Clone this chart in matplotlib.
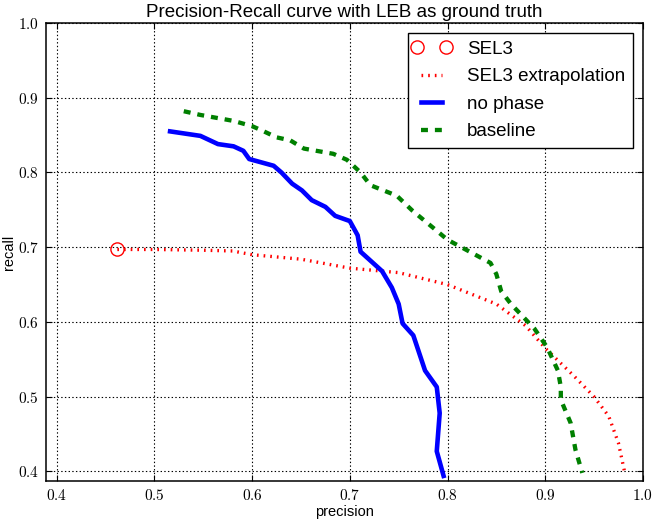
import matplotlib
matplotlib.use("Agg")
import matplotlib.pyplot as plt
from matplotlib import ticker
from matplotlib.legend_handler import HandlerLine2D

# ======================
# data
# ======================
sel3_precision = [0.462]
sel3_recall = [0.697]

extrap_precision = [0.462, 0.50, 0.55, 0.58, 0.60, 0.65, 0.70, 0.75, 0.80, 0.85,
                    0.88, 0.90, 0.93, 0.95, 0.965, 0.975, 0.982]
extrap_recall = [0.697, 0.697, 0.696, 0.695, 0.690, 0.684, 0.672, 0.666, 0.650, 0.624,
                 0.595, 0.565, 0.527, 0.500, 0.474, 0.438, 0.395]

nophase_precision = [0.516, 0.547, 0.565, 0.581, 0.591, 0.597, 0.622, 0.630, 0.641,
                     0.651, 0.661, 0.675, 0.685, 0.700, 0.708, 0.711, 0.733, 0.743,
                     0.750, 0.754, 0.765, 0.777, 0.789, 0.792, 0.789, 0.796]
nophase_recall = [0.855, 0.849, 0.838, 0.835, 0.829, 0.818, 0.809, 0.800, 0.785,
                  0.776, 0.763, 0.754, 0.742, 0.735, 0.716, 0.694, 0.668, 0.646,
                  0.624, 0.598, 0.582, 0.535, 0.513, 0.478, 0.427, 0.394]

baseline_precision = [0.530, 0.547, 0.581, 0.600, 0.612, 0.625, 0.639, 0.653, 0.683,
                      0.697, 0.711, 0.721, 0.748, 0.764, 0.789, 0.800, 0.844, 0.850,
                      0.855, 0.865, 0.889, 0.902, 0.913, 0.916, 0.916, 0.926, 0.931, 0.938]
baseline_recall = [0.882, 0.877, 0.869, 0.862, 0.855, 0.847, 0.843, 0.832, 0.825,
                   0.817, 0.800, 0.783, 0.769, 0.749, 0.722, 0.710, 0.679, 0.664,
                   0.641, 0.624, 0.591, 0.566, 0.535, 0.513, 0.496, 0.465, 0.429, 0.398]

# ======================
# style
# ======================
plt.rcParams['font.family'] = ['Liberation Sans', 'DejaVu Sans']
plt.rcParams['mathtext.fontset'] = 'cm'
plt.rcParams['lines.scale_dashes'] = False

fig = plt.figure(figsize=(6.52, 5.23), dpi=100)
ax = fig.add_axes([0.0706, 0.080, 0.9154, 0.876])

sel3_line, = ax.plot(sel3_precision, sel3_recall, 'o', mfc='none', mec='red',
                     ms=9.5, mew=1.0, label='SEL3')
ax.plot(extrap_precision, extrap_recall, color='red', lw=2.4,
        dashes=(1.2, 3.6), label='SEL3 extrapolation')
ax.plot(nophase_precision, nophase_recall, color='blue', lw=3.3, label='no phase')
ax.plot(baseline_precision, baseline_recall, color='green', lw=3.1,
        dashes=(5, 5), label='baseline')

ax.set_xlim(0.389, 1.0)
ax.set_ylim(0.387, 1.0)
ax.set_xticks([0.4, 0.5, 0.6, 0.7, 0.8, 0.9, 1.0])
ax.set_yticks([0.4, 0.5, 0.6, 0.7, 0.8, 0.9, 1.0])
tex_fmt = ticker.FuncFormatter(lambda v, p: f'${v:.1f}$')
ax.xaxis.set_major_formatter(tex_fmt)
ax.yaxis.set_major_formatter(tex_fmt)
ax.tick_params(direction='in', length=4, width=0.8, top=True, right=True,
               labelsize=11, pad=5)

ax.grid(True, color='black', linestyle=':', linewidth=0.8)
for s in ax.spines.values():
    s.set_linewidth(1.1)

ax.set_title('Precision-Recall curve with LEB as ground truth', fontsize=13.5, pad=4)
ax.set_xlabel('precision', fontsize=10.5)
ax.set_ylabel('recall', fontsize=10.5)
ax.xaxis.set_label_coords(0.5, -0.051)
ax.yaxis.set_label_coords(-0.050, 0.5)

# circles sit at both ends of the handle
leg = ax.legend(loc='upper right', numpoints=2, fontsize=13.5, fancybox=False,
                framealpha=1, edgecolor='black', handlelength=1.75,
                handletextpad=1.0, borderaxespad=0.55, labelspacing=0.55,
                handler_map={sel3_line: HandlerLine2D(numpoints=2, marker_pad=0.1)})
leg.get_frame().set_linewidth(1.0)

fig.savefig('out.png', dpi=100)
